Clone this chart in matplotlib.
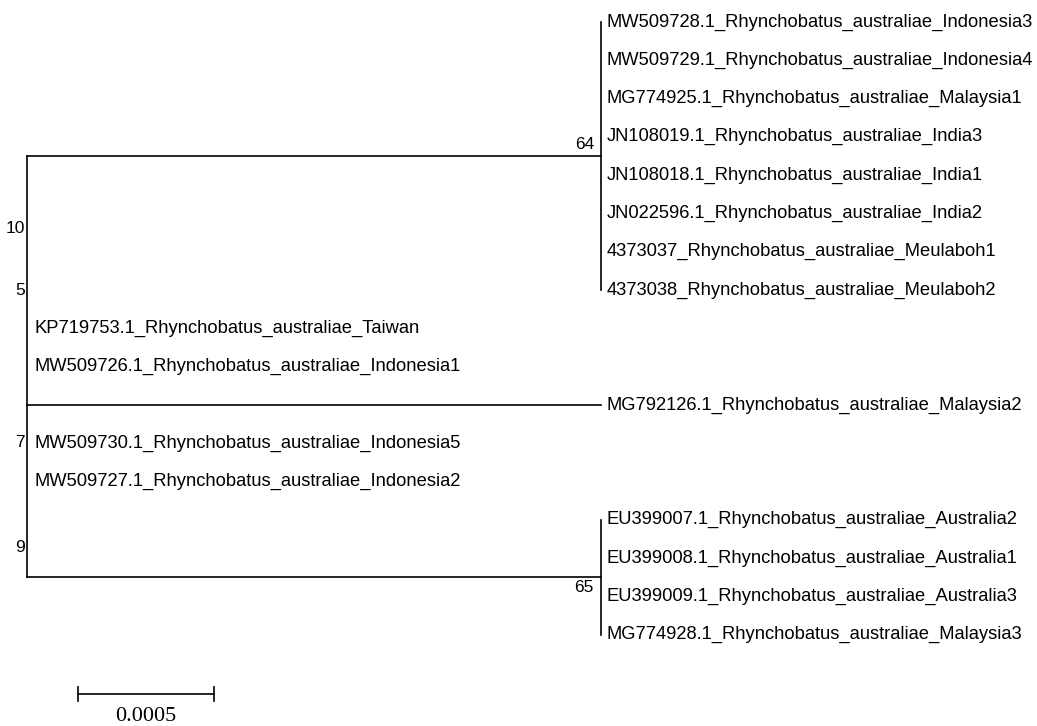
import matplotlib

matplotlib.use("Agg")
import matplotlib.pyplot as plt

# Tip order (top to bottom) and the tree layout.
clade_top = [
    "MW509728.1_Rhynchobatus_australiae_Indonesia3",
    "MW509729.1_Rhynchobatus_australiae_Indonesia4",
    "MG774925.1_Rhynchobatus_australiae_Malaysia1",
    "JN108019.1_Rhynchobatus_australiae_India3",
    "JN108018.1_Rhynchobatus_australiae_India1",
    "JN022596.1_Rhynchobatus_australiae_India2",
    "4373037_Rhynchobatus_australiae_Meulaboh1",
    "4373038_Rhynchobatus_australiae_Meulaboh2",
]
root_tips_a = [
    "KP719753.1_Rhynchobatus_australiae_Taiwan",
    "MW509726.1_Rhynchobatus_australiae_Indonesia1",
]
long_tip = "MG792126.1_Rhynchobatus_australiae_Malaysia2"
root_tips_b = [
    "MW509730.1_Rhynchobatus_australiae_Indonesia5",
    "MW509727.1_Rhynchobatus_australiae_Indonesia2",
]
clade_bottom = [
    "EU399007.1_Rhynchobatus_australiae_Australia2",
    "EU399008.1_Rhynchobatus_australiae_Australia1",
    "EU399009.1_Rhynchobatus_australiae_Australia3",
    "MG774928.1_Rhynchobatus_australiae_Malaysia3",
]

# branch lengths (substitutions per site)
len_top = 0.00211
len_long = 0.00211
len_bottom = 0.00211
support_top = "64"
support_bottom = "65"

# support values shown along the root (zero-length nodes), with row anchors
root_support = ["10", "5", "7", "9"]
root_support_rows = [5.38, 7.0, 10.97, 13.73]

scale_len = 0.0005
scale_label = "0.0005"

# ---- layout ----
W, H = 1037, 726
PX = scale_len / 136.0   # branch length per pixel
ROW = 38.3               # pixels per tip row
X0, Y0 = 27, 22          # root x pixel, first row y pixel

fig = plt.figure(figsize=(W / 100, H / 100), dpi=100)
ax = fig.add_axes([0, 0, 1, 1])
ax.set_xlim(-X0 * PX, (W - X0) * PX)
ax.set_ylim((H - Y0) / ROW, -Y0 / ROW)
ax.axis("off")

lw = 1.2
label_font = dict(family=["Liberation Sans", "DejaVu Sans"], fontsize=13.2)
num_font = dict(family=["Liberation Sans Narrow", "Liberation Sans"], fontsize=12.5)

tips = clade_top + root_tips_a + [long_tip] + root_tips_b + clade_bottom
rows = {name: i for i, name in enumerate(tips)}


def tip_label(name, x, dx=6):
    ax.annotate(name, (x, rows[name]), xytext=(dx * 0.72, 0),
                textcoords="offset points", ha="left", va="center",
                **label_font)


def clade(names, length, support, above):
    r = [rows[n] for n in names]
    mid = (r[0] + r[-1]) / 2
    ax.plot([0, length], [mid, mid], color="black", lw=lw)
    ax.plot([length, length], [r[0], r[-1]], color="black", lw=lw)
    for n in names:
        tip_label(n, length)
    dy = 12 if above else -10
    ax.annotate(support, (length, mid), xytext=(-7 * 0.72, dy * 0.72),
                textcoords="offset points", ha="right", va="center",
                **num_font)
    return mid


top_mid = clade(clade_top, len_top, support_top, above=True)
bot_mid = clade(clade_bottom, len_bottom, support_bottom, above=False)

# root vertical line
ax.plot([0, 0], [top_mid, bot_mid], color="black", lw=lw)

# long single branch
ax.plot([0, len_long], [rows[long_tip]] * 2, color="black", lw=lw)
tip_label(long_tip, len_long)

# zero-length tips sitting on the root
for n in root_tips_a + root_tips_b:
    tip_label(n, 0, dx=8)

for s, r in zip(root_support, root_support_rows):
    ax.annotate(s, (0, r), xytext=(-2 * 0.72, 0), textcoords="offset points",
                ha="right", va="center", **num_font)

# scale bar
sb_row = (694 - Y0) / ROW
sb_x = (78 - X0) * PX
ax.plot([sb_x, sb_x + scale_len], [sb_row, sb_row], color="black", lw=lw)
for xe in (sb_x, sb_x + scale_len):
    ax.plot([xe, xe], [sb_row - 0.17, sb_row + 0.17], color="black", lw=lw)
ax.text(sb_x + scale_len / 2, sb_row + 0.58, scale_label, ha="center",
        va="center", family=["Liberation Serif", "DejaVu Serif"], fontsize=16)

fig.savefig("out.png", dpi=100)
